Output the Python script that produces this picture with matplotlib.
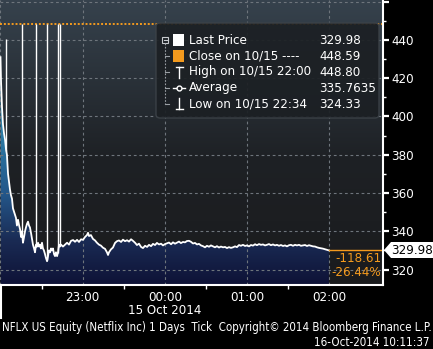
import numpy as np
import matplotlib
matplotlib.use("Agg")
import matplotlib.pyplot as plt
from matplotlib.colors import LinearSegmentedColormap
from matplotlib.patches import FancyBboxPatch, Polygon, Rectangle
from matplotlib.lines import Line2D

plt.rcParams["font.family"] = ["DejaVu Sans"]
plt.rcParams["font.stretch"] = "condensed"

# NFLX tick prices, minutes after 22:00 on 15 Oct 2014
minutes = [0, 0.4, 1.1, 1.8, 2.6, 3.3, 4.0, 4.7, 5.5, 6.2,
           6.9, 7.6, 8.4, 9.1, 10.0, 11.3, 12.0, 12.8, 13.6, 14.3,
           15.0, 15.7, 16.4, 17.2, 17.9, 18.6, 19.4, 20.1, 20.8, 21.5,
           22.3, 23.0, 23.7, 24.5, 25.2, 25.9, 26.6, 27.4, 28.1, 28.8,
           29.5, 30.3, 31.0, 31.7, 32.5, 33.2, 34.0, 34.7, 35.4, 36.2,
           36.9, 37.6, 38.3, 39.1, 39.8, 40.5, 41.3, 42.0, 42.7, 43.4,
           44.2, 45.6, 47.1, 48.6, 50.0, 51.5, 53.0, 54.4, 55.9, 57.3,
           58.8, 60.2, 61.7, 63.1, 63.9, 64.6, 66.0, 67.5, 69.0, 70.4,
           71.9, 73.3, 74.8, 76.3, 77.7, 78.5, 79.2, 80.6, 82.1, 83.6,
           85.0, 86.5, 88.0, 89.4, 90.9, 92.4, 93.8, 95.3, 96.7, 98.2,
           99.6, 101.1, 102.6, 104.0, 105.5, 107.0, 108.4, 109.9, 111.3, 112.8,
           114.2, 115.7, 117.2, 118.6, 120.1, 121.5, 123.0, 124.5, 125.9, 127.4,
           128.8, 130.3, 131.7, 133.2, 134.7, 136.1, 137.6, 139.0, 140.5, 142.0,
           143.4, 144.9, 146.3, 147.8, 149.3, 150.7, 152.2, 153.6, 155.1, 156.6,
           158.0, 159.5, 160.9, 162.4, 163.9, 165.3, 166.8, 168.2, 169.7, 171.2,
           172.6, 174.1, 175.5, 177.0, 178.5, 179.9, 181.4, 182.8, 184.3, 185.8,
           187.2, 188.7, 190.1, 191.6, 193.1, 194.5, 196.0, 197.4, 198.9, 200.4,
           201.8, 203.3, 204.7, 206.2, 207.7, 209.1, 210.6, 212.0, 213.5, 215.0,
           216.4, 217.9, 219.3, 220.8, 222.3, 223.7, 225.2, 226.6, 228.1, 229.6,
           231.0, 232.5, 233.9, 235.4, 236.9, 238.3, 239.7]
prices = [431, 418, 405, 396, 391, 388, 383, 380, 370, 366,
          362, 359, 357, 352, 350, 347, 343, 346, 343, 341,
          337, 340, 334, 337, 340, 342, 344, 345, 343, 342,
          339, 336, 333, 331, 329, 333, 332, 334, 332, 333,
          331, 334, 331, 330, 328, 326, 324.33, 327, 330, 329,
          331, 330, 331, 328, 327, 329, 327, 329, 333, 332,
          333, 332, 333, 334, 333, 335, 335.4, 334.5, 335.5, 334.4,
          335.8, 335.5, 337, 338, 339.2, 337.5, 338, 336, 335.2, 334,
          333, 332.5, 331.4, 330.8, 329, 327.6, 329, 330.5, 331.5, 333.9,
          334.8, 335.2, 334.4, 335.6, 334.8, 335.3, 334.6, 335.8, 335, 334,
          332.8, 333.5, 331.8, 331.2, 332.4, 331.8, 332.9, 332.2, 333.4, 332.8,
          333.9, 333.1, 333.5, 332.6, 333.3, 333.7, 334.1, 333.2, 334.2, 333.5,
          334, 334.6, 333.8, 334.4, 334.2, 334.9, 335, 334.5, 333.6, 333.9,
          333.1, 333.4, 332.6, 332.2, 331.6, 332.4, 331.9, 332.6, 332.1, 331.6,
          332.2, 331.5, 332.0, 331.6, 331.8, 331.2, 331.7, 331.3, 331.6, 332.1,
          331.7, 332.8, 332.4, 332.9, 332.3, 332.6, 332.1, 332.8, 332.5, 333.2,
          332.7, 333.3, 332.9, 333.1, 332.6, 332.9, 333.3, 332.7, 333.1, 332.6,
          332.9, 332.4, 332.8, 332.3, 332.6, 332.1, 332.7, 332.9, 332.4, 332.9,
          332.6, 332.9, 332.4, 332.6, 332.8, 332.3, 332.7, 332.4, 332.1, 332.0,
          331.6, 331.3, 331.1, 330.9, 330.6, 330.3, 329.98]

# bad ticks printing at the previous close
spike_minutes = [4.2, 15.5, 25.7, 33.7, 41.8, 43.2]
spike_prices = [440.5, 448.59, 448.59, 448.59, 448.59, 448.59]

prev_close = 448.59
last_price = 329.98
hour_ticks = [60, 120, 180, 240]
hour_labels = ["23:00", "00:00", "01:00", "02:00"]
legend_names = ["Last Price", "Close on 10/15 ----", "High on 10/15 22:00",
                "Average", "Low on 10/15 22:34"]
legend_values = ["329.98", "448.59", "448.80", "335.7635", "324.33"]

W, H = 433, 349
ORANGE = "#f39a1e"
XMIN, XMAX = -0.36, 279.2
YMIN, YMAX = 311.9, 460.9
FS = 9.5

fig = plt.figure(figsize=(W / 100, H / 100), dpi=100, facecolor="black")
ax = fig.add_axes([0, 64 / H, 383 / W, 285 / H])
ax.set_xlim(XMIN, XMAX)
ax.set_ylim(YMIN, YMAX)


def fx(x):
    return x / W


def fy(y):
    return 1 - y / H


# background gradient
bg = LinearSegmentedColormap.from_list("bg", [(0, "#1a1b1d"), (0.45, "#1e2125"), (1, "#36424d")])
grad = np.linspace(0, 1, 256).reshape(-1, 1)
ax.imshow(grad, extent=[XMIN, XMAX, YMIN, YMAX], origin="lower", aspect="auto",
          cmap=bg, zorder=0)

# area fill gradient clipped to the price area
fill_cmap = LinearSegmentedColormap.from_list(
    "fill", [(0, "#0e1236"), (0.17, "#1a2b54"), (0.35, "#24578a"),
             (0.65, "#2f86ad"), (1, "#3a9cc5")])
poly = ax.fill_between(minutes, prices, YMIN, facecolor="none", edgecolor="none")
img = ax.imshow(grad, extent=[XMIN, XMAX, YMIN, 448], origin="lower", aspect="auto",
                cmap=fill_cmap, zorder=1)
img.set_clip_path(poly.get_paths()[0], transform=ax.transData)

# grid
for yv in range(320, 461, 20):
    ax.axhline(yv, color="#6e757c", lw=0.8, ls=(0, (2.5, 2.5)), zorder=2)
for xv in [0] + hour_ticks:
    ax.axvline(xv, color="#6e757c", lw=0.8, ls=(0, (2.5, 2.5)), zorder=2)

# previous close dotted line
ax.axhline(prev_close, color=ORANGE, lw=1.4, ls=(0, (1, 1)), zorder=3)

# price line and spikes
ax.plot(minutes, prices, color="white", lw=1.3, zorder=4)
ax.vlines(spike_minutes, np.interp(spike_minutes, minutes, prices), spike_prices,
          color="white", lw=1.0, zorder=4)

# last price level line
ax.plot([minutes[-1], XMAX], [last_price, last_price], color=ORANGE, lw=1.0, zorder=4)

# axes styling
for s in ["left", "top"]:
    ax.spines[s].set_visible(False)
for s in ["right", "bottom"]:
    ax.spines[s].set_color("white")
    ax.spines[s].set_linewidth(1.5)
    ax.spines[s].set_zorder(6)

ax.yaxis.tick_right()
ax.set_yticks(range(320, 461, 20))
ax.set_yticklabels(["320", "340", "360", "380", "400", "420", "440", ""])
ax.set_yticks(range(330, 461, 20), minor=True)
ax.tick_params(axis="y", which="major", colors="white", length=4, width=1.6,
               pad=2, labelsize=FS)
ax.tick_params(axis="y", which="minor", colors="white", length=2.5, width=1)

ax.set_xticks(hour_ticks)
ax.set_xticklabels(hour_labels)
ax.set_xticks([30, 90, 150, 210], minor=True)
ax.tick_params(axis="x", which="major", colors="white", length=0, pad=4, labelsize=FS)
ax.tick_params(axis="x", which="minor", colors="white", length=3, width=1)

# day separator on the time axis
fig.add_artist(Line2D([fx(0.8), fx(0.8)], [fy(285), fy(318)], color="white", lw=1.5))

fig.text(fx(165), fy(311), "15 Oct 2014", color="white", fontsize=FS,
         ha="center", va="center")

# change labels
fig.text(fx(381), fy(259), "-118.61", color=ORANGE, fontsize=FS, ha="right", va="center")
fig.text(fx(381), fy(273), "-26.44%", color=ORANGE, fontsize=FS, ha="right", va="center")

# last price tag on the axis
tag = Polygon([(fx(384), fy(250)), (fx(391), fy(242)), (fx(433), fy(242)),
               (fx(433), fy(258)), (fx(391), fy(258))], closed=True,
              transform=fig.transFigure, facecolor="white", edgecolor="none")
fig.add_artist(tag)
fig.text(fx(411.5), fy(250), "329.98", color="black", fontsize=FS, ha="center", va="center")

# legend panel
box = FancyBboxPatch((fx(156), fy(118)), (379 - 156) / W, (118 - 23) / H,
                     boxstyle="round,pad=0,rounding_size=0.01",
                     transform=fig.transFigure, facecolor="#1c2024",
                     edgecolor="#3c4248", lw=1, alpha=0.93)
fig.add_artist(box)

rows = [40, 56, 72, 88, 104]
tree = "#9a9fa4"
fig.add_artist(Line2D([fx(165), fx(165)], [fy(43), fy(104)], color=tree, lw=0.8,
                      ls=(0, (1.5, 1.5))))
for ry in rows[1:]:
    fig.add_artist(Line2D([fx(165), fx(169)], [fy(ry), fy(ry)], color=tree, lw=0.8))
fig.add_artist(Rectangle((fx(162), fy(42.5)), 6 / W, 6 / H, transform=fig.transFigure,
                         facecolor="none", edgecolor="#c8cbcf", lw=0.8))
fig.add_artist(Line2D([fx(163.5), fx(166.5)], [fy(39.5), fy(39.5)], color="#c8cbcf", lw=0.8))

fig.add_artist(Rectangle((fx(173), fy(46)), 11 / W, 12 / H, transform=fig.transFigure,
                         facecolor="white", edgecolor="none"))
fig.add_artist(Rectangle((fx(173), fy(62)), 11 / W, 12 / H, transform=fig.transFigure,
                         facecolor=ORANGE, edgecolor="none"))
# high symbol
fig.add_artist(Line2D([fx(179), fx(179)], [fy(67), fy(78)], color="white", lw=1))
fig.add_artist(Line2D([fx(175.5), fx(182.5)], [fy(67), fy(67)], color="white", lw=1))
# average symbol
fig.add_artist(Line2D([fx(173), fx(185)], [fy(88), fy(88)], color="white", lw=1))
fig.add_artist(Line2D([fx(179)], [fy(88)], color="white", marker="o", markersize=3.5,
                      markerfacecolor="#1c2024", markeredgewidth=1))
# low symbol
fig.add_artist(Line2D([fx(179), fx(179)], [fy(98), fy(109)], color="white", lw=1))
fig.add_artist(Line2D([fx(175.5), fx(182.5)], [fy(109), fy(109)], color="white", lw=1))

for ry, name, val in zip(rows, legend_names, legend_values):
    fig.text(fx(189), fy(ry), name, color="white", fontsize=FS, va="center")
    fig.text(fx(319), fy(ry), val, color="white", fontsize=FS, va="center")

# footer
fig.text(fx(2), fy(328), "NFLX US Equity (Netflix Inc) 1 Days  Tick  Copyright\u00a9 2014 Bloomberg Finance L.P.",
         color="white", fontsize=8.3, va="center", ha="left")
fig.text(fx(430), fy(343), "16-Oct-2014 10:11:37", color="white", fontsize=8.3,
         va="center", ha="right")

fig.savefig("out.png", dpi=100, facecolor="black")
